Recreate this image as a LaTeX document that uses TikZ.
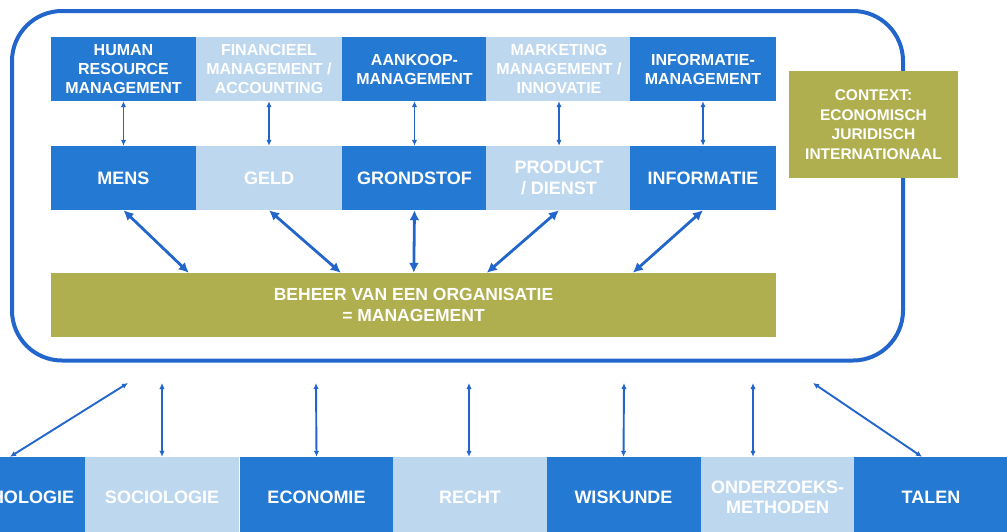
\documentclass[tikz,border=0pt]{standalone}
\usepackage{fontspec}
\setmainfont{Liberation Sans}
\usetikzlibrary{arrows.meta}
\definecolor{dblue}{HTML}{2479D2}
\definecolor{lblue}{HTML}{BDD7EE}
\definecolor{olive}{HTML}{AFAF4F}
\definecolor{lineblue}{HTML}{2266CC}
\begin{document}
\begin{tikzpicture}[x=1pt,y=-1pt,
  box/.style={inner sep=1pt, minimum width=145.5pt, minimum height=64pt, text=white, align=center},
  topf/.style={font=\bfseries\fontsize{16}{19}\selectfont},
  bigf/.style={font=\bfseries\fontsize{18}{20.5}\selectfont},
  dk/.style={fill=dblue},
  lt/.style={fill=lblue},
  botbox/.style={inner sep=1pt, minimum width=154pt, minimum height=80pt, text=white, align=center, font=\bfseries\fontsize{18}{20}\selectfont},
  smallarr/.style={draw=lineblue, line width=1.9pt, {Latex[length=6pt,width=5.5pt]}-{Latex[length=6pt,width=5.5pt]}},
  midarr/.style={draw=lineblue, line width=2.8pt, {Latex[length=10pt,width=10pt]}-{Latex[length=10pt,width=10pt]}}
]
\useasboundingbox (0,0) rectangle (1007,531);
% outer frame
\node[draw=lineblue, line width=4pt, rounded corners=50pt, minimum width=891pt, minimum height=349.5pt, inner sep=0pt] (outer) at (457.5,185.75) {};
% top row
\node[box,topf,dk] (hrm) at (123.5,69) {HUMAN\\RESOURCE\\MANAGEMENT};
\node[box,topf,lt] (fin) at (269,69) {FINANCIEEL\\MANAGEMENT /\\ACCOUNTING};
\node[box,topf,dk] (aan) at (414.5,69) {AANKOOP-\\MANAGEMENT};
\node[box,topf,lt] (mkt) at (559,69) {MARKETING\\MANAGEMENT /\\INNOVATIE};
\node[box,topf,dk] (inm) at (703,69) {INFORMATIE-\\MANAGEMENT};
% second row
\node[box,bigf,dk] (mens) at (123.5,178) {MENS};
\node[box,bigf,lt] (geld) at (269,178) {GELD};
\node[box,bigf,dk] (grond) at (414.5,178) {GRONDSTOF};
\node[box,bigf,lt] (prod) at (559,178) {PRODUCT\\/ DIENST};
\node[box,bigf,dk] (info) at (703,178) {INFORMATIE};
% beheer
\node[box,font=\bfseries\fontsize{17.5}{21.5}\selectfont,fill=olive,minimum width=725pt] (beheer) at (413.5,305) {BEHEER VAN EEN ORGANISATIE\\= MANAGEMENT};
% context
\node[inner sep=1pt, fill=olive, text=white, align=center, minimum width=169pt, minimum height=107pt, font=\bfseries\fontsize{15.5}{19.5}\selectfont] (ctx) at (873.5,124.5) {CONTEXT:\\ECONOMISCH\\JURIDISCH\\INTERNATIONAAL};
% bottom row
\node[botbox,dk] (psy) at (8,497) {PSYCHOLOGIE};
\node[botbox,lt] (soc) at (162,497) {SOCIOLOGIE};
\node[botbox,dk] (eco) at (316.5,497) {ECONOMIE};
\node[botbox,lt] (rec) at (470,497) {RECHT};
\node[botbox,dk] (wis) at (623.5,497) {WISKUNDE};
\node[botbox,lt] (ond) at (777.5,497) {ONDERZOEKS-\\METHODEN};
\node[botbox,dk] (tal) at (931,497) {TALEN};
% top arrows
\draw[smallarr] (hrm.south) -- (mens.north);
\draw[smallarr] (fin.south) -- (geld.north);
\draw[smallarr] (aan.south) -- (grond.north);
\draw[smallarr] (mkt.south) -- (prod.north);
\draw[smallarr] (inm.south) -- (info.north);
% middle arrows
\draw[midarr] (mens.south) -- ([xshift=138pt]beheer.north west);
\draw[midarr] (geld.south) -- ([xshift=290pt]beheer.north west);
\draw[midarr] (grond.south) -- ([xshift=363pt]beheer.north west);
\draw[midarr] (prod.south) -- ([xshift=436pt]beheer.north west);
\draw[midarr] (info.south) -- ([xshift=582pt]beheer.north west);
% bottom arrows
\coordinate (u1) at (128,383);
\coordinate (u2) at (162,383);
\coordinate (u3) at (316,383);
\coordinate (u4) at (469,383);
\coordinate (u5) at (624,383);
\coordinate (u6) at (753,383);
\coordinate (u7) at (813,383);
\draw[smallarr] (u1) -- ([xshift=2pt]psy.north);
\draw[smallarr] (u2) -- (soc.north);
\draw[smallarr] (u3) -- (eco.north);
\draw[smallarr] (u4) -- ([xshift=-1pt]rec.north);
\draw[smallarr] (u5) -- (wis.north);
\draw[smallarr] (u6) -- ([xshift=-24.5pt]ond.north);
\draw[smallarr] (u7) -- ([xshift=-9pt]tal.north);
\end{tikzpicture}
\end{document}
